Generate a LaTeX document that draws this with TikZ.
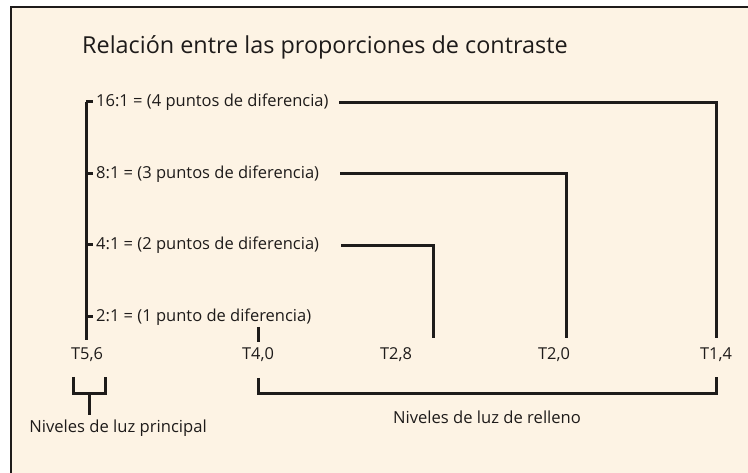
\documentclass[tikz,border=0pt]{standalone}
\usepackage{fontspec}
\setmainfont{Open Sans}
\definecolor{cream}{HTML}{FDF3E4}
\definecolor{ink}{HTML}{1E1B1A}
\begin{document}
\begin{tikzpicture}[x=1pt,y=-1pt,
  conn/.style={draw=ink,line width=3pt},
  lbl/.style={inner sep=0pt,text=ink,font=\fontsize{16.5}{19}\selectfont},
  tlbl/.style={inner sep=0pt,text=ink,font=\fontsize{16.4}{19}\selectfont},
  captxt/.style={inner sep=0pt,text=ink,font=\fontsize{16.6}{19}\selectfont}]
\useasboundingbox (0,0) rectangle (748,473);
\fill[white] (0,0) rectangle (748,473);
\fill[cream] (11,7) rectangle (748,473);
\draw[ink,line width=2.4pt] (11,473) -- (11,7) -- (748,7);
% title
\node[inner sep=0pt,anchor=base west,text=ink,font=\fontsize{23.4}{28}\selectfont] (title) at (82,54) {Relación entre las proporciones de contraste};
% ratio labels
\node[lbl,anchor=west] (l16) at (96,102) {16:1 = (4 puntos de diferencia)};
\node[lbl,anchor=west] (l8) at (96,174) {8:1 = (3 puntos de diferencia)};
\node[lbl,anchor=west] (l4) at (96,245) {4:1 = (2 puntos de diferencia)};
\node[lbl,anchor=west] (l2) at (96,317) {2:1 = (1 punto de diferencia)};
% T labels
\node[tlbl] (t56) at (87,355) {T5,6};
\node[tlbl] (t40) at (258,355) {T4,0};
\node[tlbl] (t28) at (396,355) {T2,8};
\node[tlbl] (t20) at (554,355) {T2,0};
\node[tlbl] (t14) at (716,355) {T1,4};
% captions
\node[captxt] (mainlbl) at (118,428) {Niveles de luz principal};
\node[captxt] (filllbl) at (487,417) {Niveles de luz de relleno};
% coordinates
\coordinate (vtop) at (86,102);
\coordinate (vbot) at (86,340);
\coordinate (k16) at (93,102);
\coordinate (k8) at (93,174);
\coordinate (k4) at (93,245);
\coordinate (k2) at (93,317);
\coordinate (s16) at (339,103);
\coordinate (s8) at (340,174);
\coordinate (s4) at (341,246);
\coordinate (e14) at (716,338);
\coordinate (e20) at (566,338);
\coordinate (e28) at (433,338);
\coordinate (a40) at (258,327);
\coordinate (b40) at (258,342);
\coordinate (bl) at (73,377);
\coordinate (br) at (105,377);
\coordinate (bs) at (89,415);
\coordinate (fl) at (258,378);
\coordinate (fr) at (716,377);
% connectors
\draw[conn] (vtop) -- (vbot);
\draw[conn] (vtop) -- (k16);
\draw[conn] (86,174) -- (k8);
\draw[conn] (86,245) -- (k4);
\draw[conn] (86,317) -- (k2);
\draw[conn] (s16) -| (e14);
\draw[conn] (s8) -| (e20);
\draw[conn] (s4) -| (e28);
\draw[conn] (a40) -- (b40);
\draw[conn] (bl) |- (89,394) -| (br);
\draw[conn] (89,394) -- (bs);
\draw[conn] (fl) |- (716,394) -- (fr);
\end{tikzpicture}
\end{document}
